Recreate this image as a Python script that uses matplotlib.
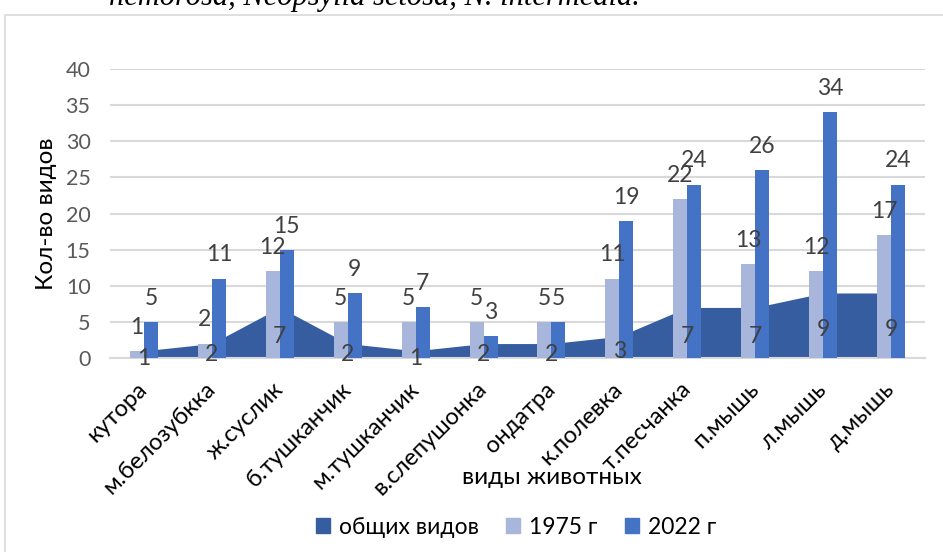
import matplotlib
matplotlib.use("Agg")
import matplotlib.pyplot as plt
import numpy as np
from matplotlib.patches import Rectangle

plt.rcParams['font.family'] = ['Lato', 'DejaVu Sans']

animals = ['кутора', 'м.белозубкка', 'ж.суслик', 'б.тушканчик', 'м.тушканчик',
           'в.слепушонка', 'ондатра', 'к.полевка', 'т.песчанка', 'п.мышь',
           'л.мышь', 'д.мышь']
common = [1, 2, 7, 2, 1, 2, 2, 3, 7, 7, 9, 9]
y1975 = [1, 2, 12, 5, 5, 5, 5, 11, 22, 13, 12, 17]
y2022 = [5, 11, 15, 9, 7, 3, 5, 19, 24, 26, 34, 24]

c_common = '#365DA0'
c_1975 = '#A8B6DB'
c_2022 = '#4472C4'
label_color = '#404040'

W, H = 943, 552
fig = plt.figure(figsize=(W / 100, H / 100), dpi=100)

# outer chart frame (runs off the right and bottom edges)
fig.patches.append(Rectangle((5 / W, -0.05), 1.1, 1 - 15 / H + 0.05,
                             transform=fig.transFigure, fill=False,
                             edgecolor='#d9d9d9', lw=1.2))

# caption line above the chart, mostly cut off
fig.text(640 / W, 1 - 5 / H, 'nemorosa, Neopsylla setosa, N. intermedia.',
         ha='right', va='baseline', fontsize=22, style='italic',
         family='Liberation Serif', color='black')

ax = fig.add_axes([110 / W, 194 / H, 815 / W, 289 / H])
x = np.arange(len(animals))
w = 0.206

ax.fill_between(x, common, 0, color=c_common, lw=0, zorder=2)
ax.bar(x - w / 2, y1975, width=w, color=c_1975, zorder=3)
ax.bar(x + w / 2, y2022, width=w, color=c_2022, zorder=3)

for i in x:
    ax.annotate(str(y1975[i]), (i - w / 2, y1975[i]), xytext=(0, 17),
                textcoords='offset points', ha='center', va='center',
                fontsize=16.5, color=label_color, zorder=5)
    ax.annotate(str(y2022[i]), (i + w / 2, y2022[i]), xytext=(0, 17),
                textcoords='offset points', ha='center', va='center',
                fontsize=16.5, color=label_color, zorder=5)
    ax.annotate(str(common[i]), (i, common[i] / 2), xytext=(0, -3),
                textcoords='offset points', ha='center', va='center',
                fontsize=16.5, color=label_color, zorder=5)

ax.set_xlim(-0.5, len(animals) - 0.5)
ax.set_ylim(0, 40)
ax.set_yticks(range(0, 41, 5))
ax.yaxis.grid(True, color='#d9d9d9', lw=1.5)
ax.set_axisbelow(True)
for s in ['top', 'right', 'left']:
    ax.spines[s].set_visible(False)
ax.spines['bottom'].set_color('#d9d9d9')
ax.spines['bottom'].set_linewidth(1.5)
ax.tick_params(axis='both', length=0, labelsize=15.5, labelcolor='#595959')
ax.tick_params(axis='y', pad=14)
ax.set_xticks(x)
ax.set_xticklabels(animals, rotation=45, ha='right', va='center',
                   rotation_mode='anchor', fontsize=17, color='black')
ax.tick_params(axis='x', pad=20)

ax.set_ylabel('Кол-во видов', fontsize=17.5, color='black', labelpad=6)
fig.text(552 / W, 1 - 478 / H, 'виды животных', ha='center', va='center',
         fontsize=17.5, color='black')

handles = [Rectangle((0, 0), 1, 1, color=c) for c in (c_common, c_1975, c_2022)]
fig.legend(handles, ['общих видов', '1975 г', '2022 г'], ncol=3,
           loc='center', bbox_to_anchor=(516 / W, 1 - 527 / H), frameon=False,
           fontsize=16.5, handlelength=0.6, handleheight=0.6, handletextpad=0.4,
           columnspacing=1.2)

fig.savefig('out.png', dpi=100)
